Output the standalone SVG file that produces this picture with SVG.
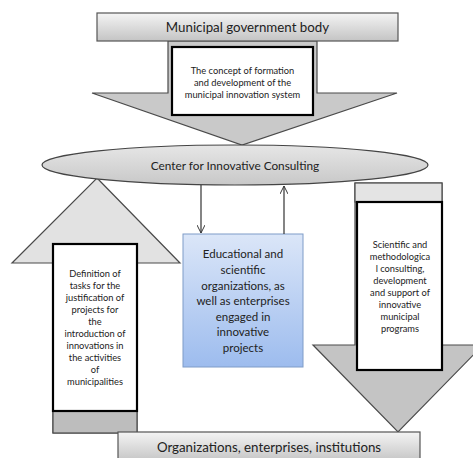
<svg xmlns="http://www.w3.org/2000/svg" width="473" height="458" viewBox="0 0 473 458">
<defs>
<linearGradient id="gbar" x1="0" y1="0" x2="0" y2="1">
<stop offset="0" stop-color="#f4f4f4"/><stop offset="1" stop-color="#c4c4c4"/>
</linearGradient>
<linearGradient id="gell" x1="0" y1="0" x2="0" y2="1">
<stop offset="0" stop-color="#e6e6e6"/><stop offset="1" stop-color="#c8c8c8"/>
</linearGradient>
<linearGradient id="gblue" x1="0" y1="0" x2="0" y2="1">
<stop offset="0" stop-color="#dbe6f8"/><stop offset="1" stop-color="#9dbcee"/>
</linearGradient>
<marker id="open" viewBox="0 0 10 10" refX="10" refY="5" markerWidth="8" markerHeight="8" orient="auto" markerUnits="userSpaceOnUse">
<path d="M0,0 L10,5 L0,10" fill="none" stroke="#333" stroke-width="1.2"/>
</marker>
<style>
.arrow{stroke:#4a4a4a;stroke-width:1.2;stroke-linejoin:miter}
.inner{fill:#fff;stroke:#000;stroke-width:2.2}
.t{font-family:Lato,"Open Sans",sans-serif;fill:#222;text-anchor:middle}
.big{font-size:13.3px}
.ell{font-size:11.8px}
.small{font-size:9.3px}
.mid{font-size:11.5px}
.conn{stroke:#333;stroke-width:1.2;fill:none}
</style>
</defs>

<g id="arrow-top">
<polygon class="arrow" fill="#c9c9c9" points="168,41 317,41 317,93 397,93 242,145 92,93 168,93"/>
</g>
<g id="arrow-left">
<polygon class="arrow" fill="#e2e2e2" points="97,178 180,263 137,263 137,433 53,433 53,263 12,263"/>
<rect x="53" y="411" width="84" height="22" fill="#bdbdbd" stroke="#4a4a4a" stroke-width="1.2"/>
</g>
<g id="arrow-right">
<polygon class="arrow" fill="#c4c4c4" points="355,183 442,183 442,345 483,345 398,432 313,345 355,345"/>
<rect x="355" y="183" width="87" height="19" fill="#e4e4e4" stroke="#4a4a4a" stroke-width="1.2"/>
</g>

<g id="node-top">
<rect x="97" y="13" width="301" height="28" fill="url(#gbar)" stroke="#555" stroke-width="1.2"/>
<text class="t big" x="247.5" y="32">Municipal government body</text>
</g>

<g id="node-concept">
<rect class="inner" x="172" y="47" width="141" height="68"/>
<text class="t small"><tspan x="242.5" y="74">The concept of formation</tspan><tspan x="242.5" y="86">and development of the</tspan><tspan x="242.5" y="98">municipal innovation system</tspan></text>
</g>

<g id="node-center">
<ellipse cx="235" cy="165" rx="193" ry="20" fill="url(#gell)" stroke="#444" stroke-width="1.2"/>
<text class="t ell" x="235" y="169.5">Center for Innovative Consulting</text>
</g>

<g id="node-left">
<rect class="inner" x="53" y="244" width="84" height="167"/>
<text class="t small"><tspan x="95" y="277">Definition of</tspan><tspan x="95" y="289">tasks for the</tspan><tspan x="95" y="301">justification of</tspan><tspan x="95" y="313">projects for</tspan><tspan x="95" y="325">the</tspan><tspan x="95" y="337">introduction of</tspan><tspan x="95" y="349">innovations in</tspan><tspan x="95" y="361">the activities</tspan><tspan x="95" y="373">of</tspan><tspan x="95" y="385">municipalities</tspan></text>
</g>

<g id="node-right">
<rect class="inner" x="357" y="202" width="85" height="168"/>
<text class="t small"><tspan x="400" y="248">Scientific and</tspan><tspan x="400" y="260">methodologica</tspan><tspan x="400" y="272">l consulting,</tspan><tspan x="400" y="284">development</tspan><tspan x="400" y="296">and support of</tspan><tspan x="400" y="308">innovative</tspan><tspan x="400" y="320">municipal</tspan><tspan x="400" y="332">programs</tspan></text>
</g>

<g id="node-edu">
<rect x="183" y="234" width="120" height="133" fill="url(#gblue)" stroke="#7f9cc8" stroke-width="1"/>
<text class="t mid"><tspan x="243" y="258">Educational and</tspan><tspan x="243" y="274">scientific</tspan><tspan x="243" y="290">organizations, as</tspan><tspan x="243" y="305">well as enterprises</tspan><tspan x="243" y="321">engaged in</tspan><tspan x="243" y="336">innovative</tspan><tspan x="243" y="352">projects</tspan></text>
</g>

<g id="node-bottom">
<rect x="118" y="432" width="302" height="30" fill="url(#gbar)" stroke="#555" stroke-width="1.2"/>
<text class="t big" x="269" y="452">Organizations, enterprises, institutions</text>
</g>

<g id="connectors">
<line class="conn" x1="201" y1="185" x2="201" y2="233" marker-end="url(#open)"/>
<line class="conn" x1="284" y1="234" x2="284" y2="186" marker-end="url(#open)"/>
</g>
</svg>
